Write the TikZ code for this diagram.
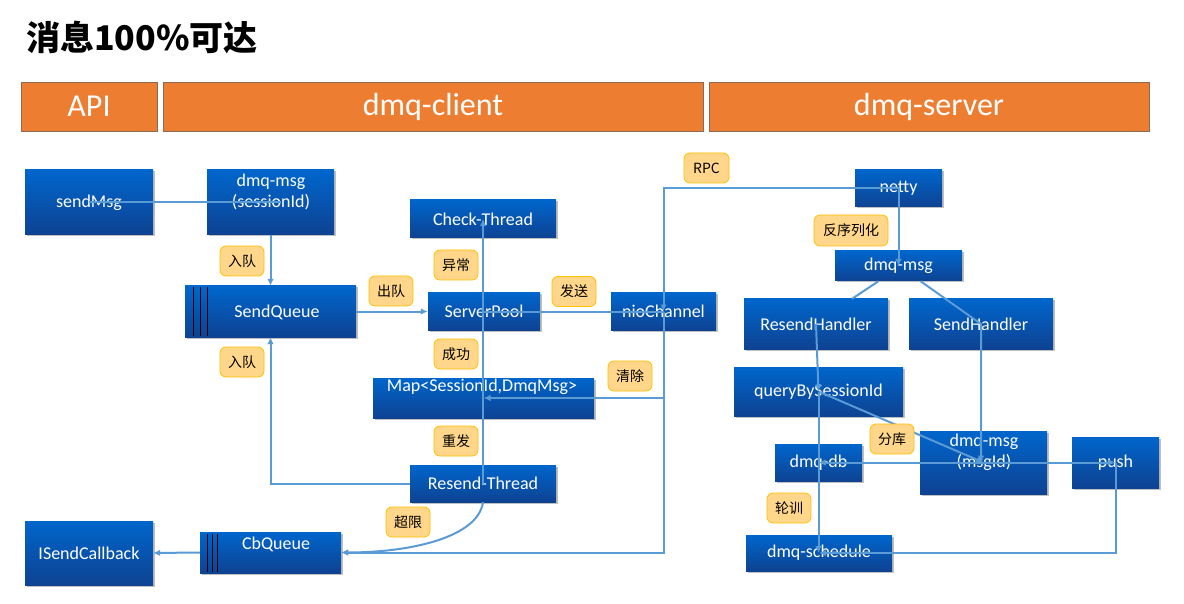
\documentclass[tikz,border=0pt]{standalone}
\usepackage{fontspec}
\setmainfont{Carlito}
\newfontfamily\cjk{Noto Sans CJK SC}
\usetikzlibrary{arrows.meta,calc,shadows}
\definecolor{hdr}{RGB}{237,125,49}
\definecolor{hdrline}{RGB}{140,105,85}
\definecolor{btop}{RGB}{0,102,204}
\definecolor{bbot}{RGB}{14,66,146}
\definecolor{conncol}{RGB}{91,155,213}
\definecolor{lblfill}{RGB}{255,214,138}
\definecolor{lbldraw}{RGB}{255,192,0}
\tikzset{
  hdrbox/.style={draw=hdrline, line width=0.8pt, fill=hdr, text=white, font=\fontsize{32}{36}\selectfont, inner sep=0pt, minimum height=49pt},
  bbox/.style={top color=btop, bottom color=bbot, draw=none, text=white, font=\fontsize{18}{21}\selectfont, inner sep=0pt, drop shadow={shadow xshift=1.5pt, shadow yshift=-1.5pt, opacity=0.25, fill=black}},
  btxt/.style={text=white, font=\fontsize{18}{21}\selectfont, inner sep=0pt, align=center},
  lbl/.style={draw=lbldraw, line width=0.8pt, fill=lblfill, rounded corners=6pt, minimum width=44pt, minimum height=30pt, inner sep=0pt, font=\cjk\fontsize{14}{16}\selectfont},
  conn/.style={draw=conncol, line width=2pt},
  arr/.style={conn, -{Latex[length=7pt,width=6.5pt]}},
  qline/.style={draw=black, line width=0.8pt}
}
\begin{document}
\begin{tikzpicture}[x=1pt,y=-1pt]
\useasboundingbox (0,0) rectangle (1184,604);
\fill[white] (0,0) rectangle (1184,604);
% title
\node[anchor=west, inner sep=0pt, font=\cjk\bfseries\fontsize{34}{38}\selectfont] (title) at (26,37) {消息100\%可达};
% headers
\node[hdrbox, minimum width=136pt] (api) at (89,106.5) {API};
\node[hdrbox, minimum width=540pt] (client) at (433,106.5) {dmq-client};
\node[hdrbox, minimum width=440pt] (server) at (929,106.5) {dmq-server};
% client boxes
\node[bbox, minimum width=128pt, minimum height=65pt] (sendmsg) at (89,202.5) {sendMsg};
\node[bbox, minimum width=127pt, minimum height=65pt] (msgs) at (270.5,202.5) {};
\node[btxt] (msgstxt) at (271,192) {dmq-msg\\(sessionId)};
\node[bbox, minimum width=171pt, minimum height=51pt] (sendq) at (270.5,311.5) {};
\node[btxt] (sendqtxt) at (277,312) {SendQueue};
\node[bbox, minimum width=146pt, minimum height=38pt] (check) at (483,219) {Check-Thread};
\node[bbox, minimum width=112pt, minimum height=37pt] (spool) at (484,311.5) {ServerPool};
\node[bbox, minimum width=105pt, minimum height=37pt] (nio) at (663.5,311.5) {nioChannel};
\node[bbox, minimum width=221pt, minimum height=40pt] (map) at (483.5,398) {};
\node[btxt] (maptxt) at (482,387) {Map<SessionId,DmqMsg>};
\node[bbox, minimum width=146pt, minimum height=37pt] (resend) at (483,483.5) {Resend-Thread};
\node[bbox, minimum width=141pt, minimum height=41pt] (cbq) at (270.5,552.5) {};
\node[btxt] (cbqtxt) at (276,544) {CbQueue};
\node[bbox, minimum width=128pt, minimum height=64pt] (isc) at (89,553) {ISendCallback};
% queue stripes
\draw[qline] (193,287) -- (193,336) (200,287) -- (200,336) (207,287) -- (207,336);
\draw[qline] (207,534) -- (207,572) (212,534) -- (212,572) (217,534) -- (217,572);
% server boxes
\node[bbox, minimum width=87pt, minimum height=37pt] (netty) at (898.5,188.5) {netty};
\node[bbox, minimum width=127pt, minimum height=30pt] (dmsg) at (898.5,266) {dmq-msg};
\node[bbox, minimum width=144pt, minimum height=50pt] (rh) at (816,324) {ResendHandler};
\node[bbox, minimum width=144pt, minimum height=50pt] (sh) at (981,324) {SendHandler};
\node[bbox, minimum width=169pt, minimum height=49pt] (qbs) at (818.5,391.5) {queryBySessionId};
\node[bbox, minimum width=87pt, minimum height=37pt] (db) at (818.5,462.5) {dmq-db};
\node[bbox, minimum width=127pt, minimum height=63pt] (mid) at (983.5,462.5) {};
\node[btxt] (midtxt) at (984,452.5) {dmq-msg\\(msgId)};
\node[bbox, minimum width=87pt, minimum height=51pt] (push) at (1115.5,462.5) {push};
\node[bbox, minimum width=146pt, minimum height=36pt] (sched) at (819,553) {dmq-schedule};
% client connectors
\draw[conn] (sendmsg.center) -- ($(msgs.center)+(10,0)$);
\draw[arr] (msgs.south) -- (sendq.north);
\draw[arr] (resend.west) -| (sendq.south);
\draw[arr] (sendq.east) -- (spool.west);
\draw[arr] (resend.center) -- (check.center);
\draw[conn] (spool.center) -- (nio.center);
\draw[arr] (netty.center) -| (nio.center);
\draw[arr] (nio.center) |- (map.center);
\draw[arr] (nio.center) |- (cbq.east);
\draw[arr] (resend.south) .. controls +(-5,35) and +(70,0) .. (cbq.east);
\draw[arr] (cbq.west) -- (isc.east);
% server connectors
\draw[arr] (netty.center) -- (dmsg.center);
\draw[conn] ($(dmsg.south)+(-20,0)$) -- ($(rh.north)+(36,0)$);
\draw[arr] ($(dmsg.south)+(22,0)$) -- (sh.center) -- (sh.center |- mid.center);
\draw[arr] (rh.center) -- (qbs.center);
\draw[arr] (qbs.center) -- (mid.center);
\draw[arr] (qbs.center) -- (qbs.center |- sched.center);
\draw[arr] (mid.center) -- (db.center);
\draw[arr] (mid.center) -- (push.center);
\draw[arr] (push.center) |- (sched.center);
% labels
\node[lbl] (l1) at (242,261) {入队};
\node[lbl] (l2) at (242,362) {入队};
\node[lbl] (l3) at (391,291) {出队};
\node[lbl] (l4) at (456,265) {异常};
\node[lbl] (l5) at (574,291.5) {发送};
\node[lbl] (l6) at (456,354) {成功};
\node[lbl] (l7) at (630,376) {清除};
\node[lbl] (l8) at (456,441) {重发};
\node[lbl] (l9) at (408,522) {超限};
\node[lbl, minimum width=45pt] (l10) at (706.5,168) {RPC};
\node[lbl, minimum width=74pt, minimum height=31pt] (l11) at (851,230.5) {反序列化};
\node[lbl] (l12) at (892,439) {分库};
\node[lbl] (l13) at (789,508) {轮训};
\end{tikzpicture}
\end{document}
